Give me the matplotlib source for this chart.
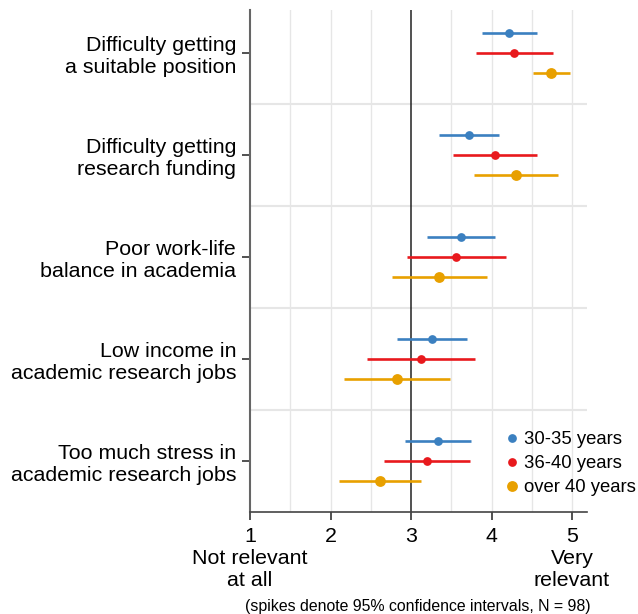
import matplotlib
matplotlib.use("Agg")
import matplotlib.pyplot as plt
from matplotlib.lines import Line2D
import numpy as np

plt.rcParams['font.family'] = ['Liberation Sans', 'DejaVu Sans']

categories = [
    "Difficulty getting\na suitable position",
    "Difficulty getting\nresearch funding",
    "Poor work-life\nbalance in academia",
    "Low income in\nacademic research jobs",
    "Too much stress in\nacademic research jobs",
]
series = ["30-35 years", "36-40 years", "over 40 years"]
colors = ["#3b80c0", "#e8191d", "#e8a000"]

means = {
    "30-35 years":   [4.22, 3.72, 3.62, 3.26, 3.34],
    "36-40 years":   [4.28, 4.04, 3.56, 3.12, 3.20],
    "over 40 years": [4.74, 4.30, 3.35, 2.83, 2.61],
}
ci_low = {
    "30-35 years":   [3.88, 3.35, 3.20, 2.83, 2.93],
    "36-40 years":   [3.81, 3.52, 2.95, 2.45, 2.66],
    "over 40 years": [4.52, 3.78, 2.76, 2.17, 2.10],
}
ci_high = {
    "30-35 years":   [4.57, 4.09, 4.04, 3.70, 3.75],
    "36-40 years":   [4.77, 4.57, 4.18, 3.79, 3.73],
    "over 40 years": [4.98, 4.83, 3.94, 3.48, 3.12],
}
xticks = [1, 2, 3, 4, 5]
xticklabels = ["1\nNot relevant\nat all", "2", "3", "4", "5\nVery\nrelevant"]
footnote = "(spikes denote 95% confidence intervals, N = 98)"

fig = plt.figure(figsize=(6.38, 6.14), dpi=100)
ax = fig.add_axes([250/638, 1-512/614, 336.7/638, 502/614])

offsets = [-0.2, 0.0, 0.2]
msizes = [6.3, 6.3, 7.8]
ypos = np.arange(len(categories))
for s, c, off, ms in zip(series, colors, offsets, msizes):
    y = ypos + off
    ax.hlines(y, ci_low[s], ci_high[s], color=c, lw=1.9, zorder=3)
    ax.plot(means[s], y, 'o', color=c, ms=ms, zorder=4, mec='none')

ax.set_xlim(1, 1 + 336.7/80.5)
ax.set_ylim(4.5, -0.5 + 8/102)

# grid
for xv in np.arange(1.5, 5.01, 0.5):
    if xv != 3:
        ax.axvline(xv, color="#e6e6e6", lw=1, zorder=0)
for yv in [0.5, 1.5, 2.5, 3.5]:
    ax.axhline(yv, color="#e6e6e6", lw=1.5, zorder=0)
ax.axvline(3, color="#222222", lw=1.1, zorder=2)

for sp in ['top', 'right']:
    ax.spines[sp].set_visible(False)
ax.spines['left'].set_color('#666666')
ax.spines['left'].set_linewidth(1.5)
ax.spines['bottom'].set_color('#444444')
ax.spines['bottom'].set_linewidth(1.2)

ax.set_xticks(xticks)
ax.set_xticklabels(xticklabels, fontsize=15.4, linespacing=1.18)
ax.set_yticks(ypos)
ax.set_yticklabels(categories, fontsize=15.4, linespacing=1.18)
ax.tick_params(axis='both', length=6, width=1.2, color='#333333')
ax.tick_params(axis='x', pad=5)
ax.tick_params(axis='y', pad=4)

handles = [Line2D([], [], marker='o', ls='none', color=c, ms=ms, mec='none')
           for c, ms in zip(colors, msizes)]
fig.legend(handles, series, loc='upper left', bbox_to_anchor=(506/638, 1-431/614),
           frameon=False, fontsize=13.3, handlelength=0.6, handletextpad=0.35,
           labelspacing=0.38, borderpad=0, borderaxespad=0)

fig.text(418/638, 1-606/614, footnote, ha='center', va='center', fontsize=11.4)

fig.savefig("out.png", dpi=100)
